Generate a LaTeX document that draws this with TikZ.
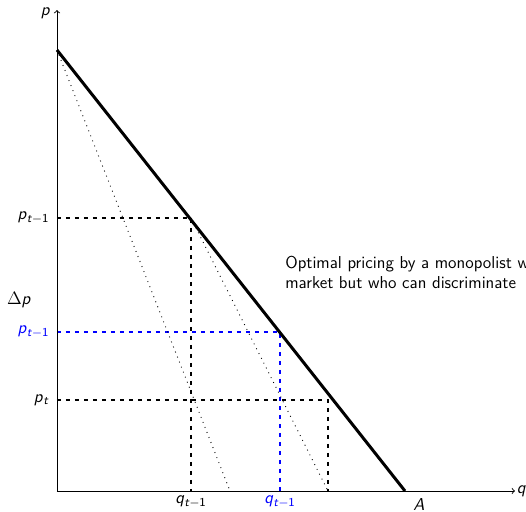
\documentclass[tikz,border=0pt]{standalone}
\usetikzlibrary{calc}
\newcommand\vlab[1]{\textit{#1}}
\begin{document}
\begin{tikzpicture}[x=0.6667pt,y=-0.6667pt,
  font=\sffamily\fontsize{11.5}{13.5}\selectfont,
  axis/.style={line width=0.6pt,->,>=to},
  demand/.style={line width=2pt},
  guide/.style={line width=1.5pt,dashed},
  blueguide/.style={line width=1.5pt,dashed,blue},
  mr/.style={line width=0.6pt,dash pattern=on 0.6pt off 3pt},
  lbl/.style={inner sep=1pt}]
\useasboundingbox (0,0) rectangle (526,512);
\clip (0,0) rectangle (526,512);
% axis points
\coordinate (O) at (57,491);
\coordinate (Ytop) at (57,10);
\coordinate (Xend) at (515,491);
\coordinate (D0) at (57,50);
\coordinate (Aend) at (405,491);
\coordinate (P1) at (191,218);
\coordinate (P1y) at (57,218);
\coordinate (P1x) at (191,491);
\coordinate (B1) at (280,332);
\coordinate (B1y) at (57,332);
\coordinate (B1x) at (280,491);
\coordinate (Pt) at (328,400);
\coordinate (Pty) at (57,400);
\coordinate (Ptx) at (328,491);
\coordinate (M1) at (230,491);
% guides
\draw[guide] (P1y) -- (P1) -- (P1x);
\draw[blueguide] (B1y) -- (B1) -- (B1x);
\draw[guide] (Pty) -- (Pt) -- (Ptx);
% marginal revenue
\draw[mr] (D0) -- (M1);
\draw[mr] (P1) -- (Ptx);
% demand
\draw[demand] (D0) -- (Aend);
% axes
\draw[axis] (O) -- (Ytop);
\draw[axis] (O) -- (Xend);
% labels
\node[lbl,anchor=east] (lp) at (52,13) {\vlab{p}};
\node[lbl,anchor=west] (lq) at (Xend) {\vlab{q}};
\node[lbl] (lA) at (419,505) {\vlab{A}};
\node[lbl,anchor=east] (lp1) at (51,218) {\textit{p}\textsubscript{\textit{t}$-$1}};
\node[lbl] (ldp) at (19,300) {$\Delta$\textit{p}};
\node[lbl,anchor=east,blue] (lb1) at (51,332) {\textit{p}\textsubscript{\textit{t}$-$1}};
\node[lbl,anchor=east] (lpt) at (51,400) {\textit{p}\textsubscript{\textit{t}}};
\node[lbl,anchor=north] (lq1) at (191,494) {\textit{q}\textsubscript{\textit{t}$-$1}};
\node[lbl,anchor=north,blue] (lbq1) at (280,494) {\textit{q}\textsubscript{\textit{t}$-$1}};
\node[anchor=north west,align=left,inner sep=0pt] (txt) at (285,256)
  {Optimal pricing by a monopolist who\\market but who can discriminate};
\end{tikzpicture}
\end{document}
